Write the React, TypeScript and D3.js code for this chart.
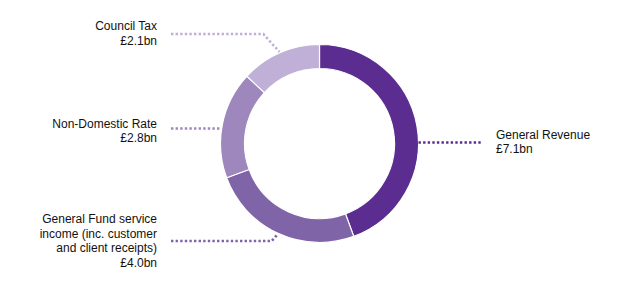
import React from "react";
import * as d3 from "d3";

const categories = [
  "General Revenue",
  "General Fund service income",
  "Non-Domestic Rate",
  "Council Tax",
];
const values = [7.1, 4.0, 2.8, 2.1];
const valueLabels = ["£7.1bn", "£4.0bn", "£2.8bn", "£2.1bn"];
const labelLines = [
  ["General Revenue"],
  ["General Fund service", "income (inc. customer", "and client receipts)"],
  ["Non-Domestic Rate"],
  ["Council Tax"],
];
const colors = ["#5c2d91", "#8064a8", "#9d87bd", "#c0b0d7"];

// layout per label: side, leader y, block centre y, elbow or straight
const layout = [
  { side: "right", leaderY: 142.5, blockY: 141.8, elbow: false },
  { side: "left", leaderY: 241, blockY: 240.5, elbow: true },
  { side: "left", leaderY: 128.5, blockY: 130.5, elbow: false },
  { side: "left", leaderY: 34, blockY: 33, elbow: true },
];

const W = 640;
const H = 286;
const cx = 319.5;
const cy = 143.5;
const outerR = 99;
const innerR = 75;
const leftTextX = 157;
const leftLineX = 171;
const rightTextX = 496;
const rightLineEnd = 482;
const lineH = 14.5;

export default function App() {
  const pie = d3
    .pie<number>()
    .sort(null)
    .value((d) => d);
  const arcs = pie(values);
  const arc = d3
    .arc<d3.PieArcDatum<number>>()
    .innerRadius(innerR)
    .outerRadius(outerR);

  const leaders = arcs.map((a, i) => {
    const L = layout[i];
    const y = L.leaderY;
    let pts: [number, number][];
    if (L.elbow) {
      const mid = (a.startAngle + a.endAngle) / 2;
      const px = cx + (outerR + 1) * Math.sin(mid);
      const py = cy - (outerR + 1) * Math.cos(mid);
      const dy = Math.abs(py - y);
      const ex = L.side === "left" ? px - dy * 0.9 : px + dy * 0.9;
      pts = [
        [leftLineX, y],
        [ex, y],
        [px, py],
      ];
    } else {
      const dy = y - cy;
      const dx = Math.sqrt(outerR * outerR - dy * dy);
      if (L.side === "left") {
        pts = [
          [leftLineX, y],
          [cx - dx - 1, y],
        ];
      } else {
        pts = [
          [cx + dx, y],
          [rightLineEnd, y],
        ];
      }
    }
    return d3.line()(pts) as string;
  });

  return (
    <svg
      width={W}
      height={H}
      style={{ position: "absolute", left: 0, top: 0, background: "#fff" }}
      fontFamily="'Liberation Sans', Arial, sans-serif"
    >
      <g transform={`translate(${cx},${cy})`}>
        {arcs.map((a, i) => (
          <path
            key={categories[i]}
            d={arc(a) as string}
            fill={colors[i]}
            stroke="#fff"
            strokeWidth={1.2}
          />
        ))}
      </g>
      {leaders.map((d, i) => (
        <path
          key={"l" + i}
          d={d}
          fill="none"
          stroke={colors[i]}
          strokeWidth={2.6}
          strokeDasharray="2.4,2.2"
        />
      ))}
      {labelLines.map((lines, i) => {
        const L = layout[i];
        const all = [...lines, valueLabels[i]];
        const n = all.length;
        const firstCenter = L.blockY - ((n - 1) * lineH) / 2;
        const isLeft = L.side === "left";
        return (
          <text
            key={"t" + i}
            fontSize={12}
            fill="#111"
            textAnchor={isLeft ? "end" : "start"}
          >
            {all.map((s, j) => (
              <tspan
                key={j}
                x={isLeft ? leftTextX : rightTextX}
                y={firstCenter + j * lineH + 4.3}
              >
                {s}
              </tspan>
            ))}
          </text>
        );
      })}
    </svg>
  );
}
